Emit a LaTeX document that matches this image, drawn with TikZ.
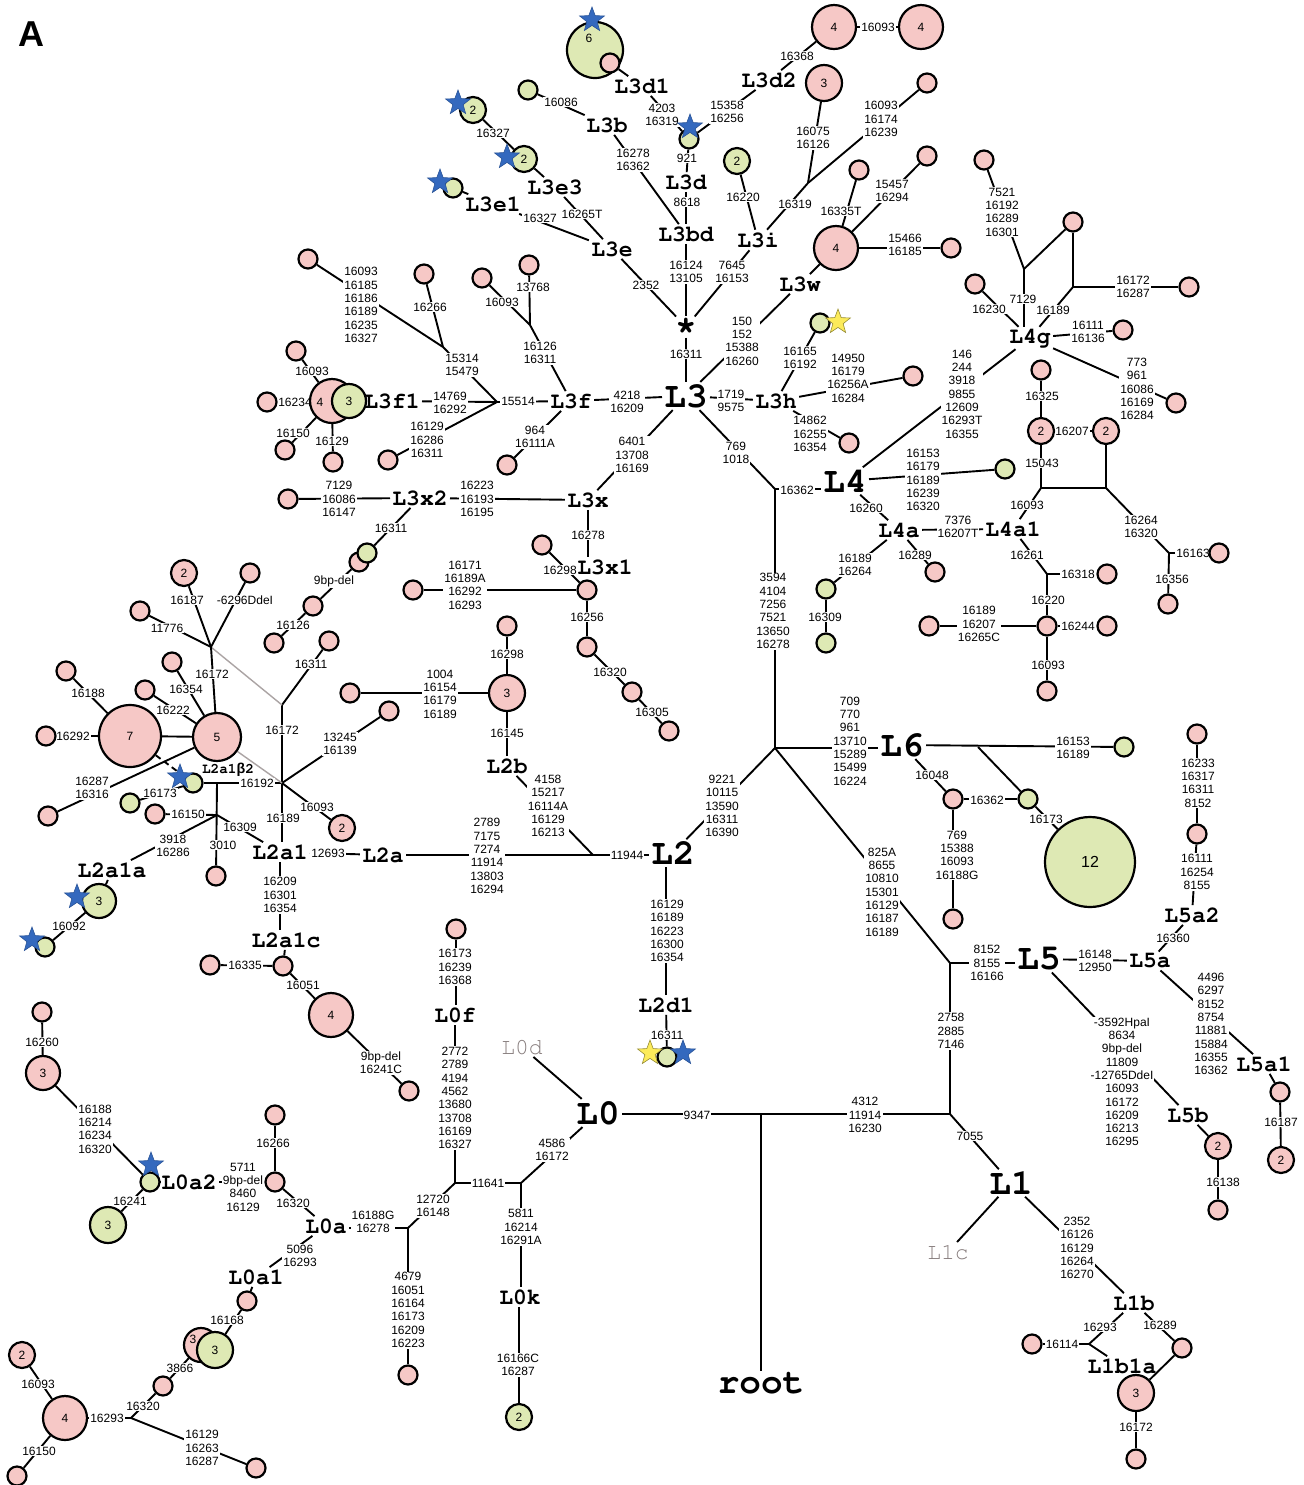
\documentclass[tikz,border=0pt]{standalone}
\usepackage[T1]{fontenc}
\usepackage{fontspec}
\setmainfont{Liberation Sans}
\newfontfamily\cour{Liberation Mono}
\newcommand\crbf{\fontencoding{T1}\fontfamily{pcr}\fontseries{b}\fontshape{n}}
\newcommand\crmd{\fontencoding{T1}\fontfamily{pcr}\fontseries{m}\fontshape{n}}
\usetikzlibrary{shapes.geometric,backgrounds}
\definecolor{pinkc}{RGB}{246,200,198}
\definecolor{greenc}{RGB}{222,233,180}
\definecolor{bluec}{RGB}{52,105,190}
\definecolor{yellowc}{RGB}{252,235,90}
\definecolor{greyc}{RGB}{135,125,125}
\begin{document}
\begin{tikzpicture}[x=0.5pt,y=-0.5pt,
 num/.style={font=\fontsize{6}{6.65}\selectfont,align=center,fill=white,inner sep=0.5pt},
 cbig/.style={font=\crbf\fontsize{18}{18}\selectfont,inner sep=1pt},
 cmed/.style={font=\crbf\fontsize{11.5}{12}\selectfont,inner sep=1pt},
 csml/.style={font=\crbf\fontsize{7.2}{8}\selectfont,inner sep=0.5pt},
 cgry/.style={font=\crmd\fontsize{11.5}{12}\selectfont,inner sep=1pt,text=greyc},
 ctxt/.style={font=\fontsize{6}{6}\selectfont,inner sep=0pt},
 pk/.style={circle,draw,line width=1.1pt,fill=pinkc,inner sep=0pt,font=\fontsize{6}{6}\selectfont},
 gr/.style={circle,draw,line width=1.1pt,fill=greenc,inner sep=0pt,font=\fontsize{6}{6}\selectfont},
 sz1/.style={minimum size=9.5pt},
 sz2/.style={minimum size=13pt},
 sz3/.style={minimum size=18pt},
 sz3b/.style={minimum size=17pt},
 sz4/.style={minimum size=22pt},
 sz5/.style={minimum size=24pt},
 sz6/.style={minimum size=28pt},
 sz7/.style={minimum size=31pt},
 sz12/.style={minimum size=45pt},
 bstar/.style={star,star points=5,star point ratio=2.4,fill=bluec,draw=bluec!80!black,line width=0.3pt,minimum size=13pt,inner sep=0pt},
 ystar/.style={star,star points=5,star point ratio=2.4,fill=yellowc,draw=yellowc!60!black,line width=0.3pt,minimum size=13pt,inner sep=0pt},
 ln/.style={line width=0.95pt},
 lng/.style={line width=0.7pt,draw=greyc!70!white}
]
\useasboundingbox (0,0) rectangle (1303,1485);
\node[font=\bfseries\fontsize{18}{18}\selectfont] (lblA) at (31,34) {A};

% ---------- junctions
\coordinate (J1) at (808,183);
\coordinate (J2) at (497,402);
\coordinate (J3) at (443,347);
\coordinate (J4) at (530,325);
\coordinate (J5) at (775,489);
\coordinate (J6) at (775,748);
\coordinate (J6a) at (978,747);
\coordinate (J7) at (1041,488);
\coordinate (J8) at (1106,488);
\coordinate (J9) at (1169,553);
\coordinate (J10) at (1047,574);
\coordinate (J11) at (1024,269);
\coordinate (J12) at (1073,287);
\coordinate (J13) at (950,963);
\coordinate (J14) at (950,1114);
\coordinate (J15) at (761,1114);
\coordinate (J16) at (1089,1344);
\coordinate (J17) at (593,855);
\coordinate (J18) at (282,783);
\coordinate (J19) at (282,705);
\coordinate (J20) at (211,647);
\coordinate (J21) at (217,815);
\coordinate (J21t) at (217,783);
\coordinate (J22) at (521,1183);
\coordinate (J23) at (455,1183);
\coordinate (J24) at (408,1228);
\coordinate (J25) at (131,1418);

% ---------- number labels
\node[num] (a1) at (797,56) {16368};
\node[num] (a2) at (878,27) {16093};
\node[num] (a3) at (662,115) {4203\\16319};
\node[num] (a4) at (727,112) {15358\\16256};
\node[num] (a5) at (561,102) {16086};
\node[num] (a6) at (493,133) {16327};
\node[num] (a7) at (633,160) {16278\\16362};
\node[num] (a8) at (687,158) {921};
\node[num] (a9) at (687,202) {8618};
\node[num] (a10) at (743,197) {16220};
\node[num] (a11) at (813,138) {16075\\16126};
\node[num] (a12) at (881,119) {16093\\16174\\16239};
\node[num] (a13) at (795,204) {16319};
\node[num] (a14) at (841,211) {16335T};
\node[num] (a15) at (892,191) {15457\\16294};
\node[num] (a16) at (905,245) {15466\\16185};
\node[num] (a17) at (540,218) {16327};
\node[num] (a18) at (582,214) {16265T};
\node[num] (a19) at (646,285) {2352};
\node[num] (a20) at (686,272) {16124\\13105};
\node[num] (a21) at (732,272) {7645\\16153};
\node[num] (a22) at (686,354) {16311};
\node[num] (a23) at (742,341) {150\\152\\15388\\16260};
\node[num] (a24) at (800,358) {16165\\16192};
\node[num] (a25) at (848,378) {14950\\16179\\16256A\\16284};
\node[num] (a26) at (810,434) {14862\\16255\\16354};
\node[num] (a27) at (731,401) {1719\\9575};
\node[num] (a28) at (627,402) {4218\\16209};
\node[num] (a29) at (518,401) {15514};
\node[num] (a30) at (361,305) {16093\\16185\\16186\\16189\\16235\\16327};
\node[num] (a31) at (430,307) {16266};
\node[num] (a32) at (462,365) {15314\\15479};
\node[num] (a33) at (502,302) {16093};
\node[num] (a34) at (533,287) {13768};
\node[num] (a35) at (540,353) {16126\\16311};
\node[num] (a36) at (450,403) {14769\\16292};
\node[num] (a37) at (427,440) {16129\\16286\\16311};
\node[num] (a38) at (535,437) {964\\16111A};
\node[num] (a39) at (312,371) {16093};
\node[num] (a40) at (295,402) {16234};
\node[num] (a41) at (293,433) {16150};
\node[num] (a42) at (332,441) {16129};
\node[num] (a43) at (632,455) {6401\\13708\\16169};
\node[num] (a44) at (477,499) {16223\\16193\\16195};
\node[num] (a45) at (339,499) {7129\\16086\\16147};
\node[num] (a46) at (391,528) {16311};
\node[num] (a47) at (334,581) {9bp-del};
\node[num] (a48) at (293,625) {16126};
\node[num] (a49) at (588,535) {16278};
\node[num] (a50) at (560,570) {16298};
\node[num] (a51) at (465,585) {16171\\16189A\\16292\\16293};
\node[num] (a52) at (587,617) {16256};
\node[num] (a53) at (610,672) {16320};
\node[num] (a54) at (652,712) {16305};
\node[num] (a55) at (736,453) {769\\1018};
\node[num] (a56) at (797,490) {16362};
\node[num] (a57) at (773,611) {3594\\4104\\7256\\7521\\13650\\16278};
\node[num] (a58) at (962,394) {146\\244\\3918\\9855\\12609\\16293T\\16355};
\node[num] (a59) at (923,480) {16153\\16179\\16189\\16239\\16320};
\node[num] (a60) at (866,508) {16260};
\node[num] (a61) at (958,527) {7376\\16207T};
\node[num] (a62) at (915,555) {16289};
\node[num] (a63) at (855,565) {16189\\16264};
\node[num] (a64) at (825,617) {16309};
\node[num] (a65) at (1027,505) {16093};
\node[num] (a66) at (1042,463) {15043};
\node[num] (a67) at (1042,396) {16325};
\node[num] (a68) at (1072,431) {16207};
\node[num] (a69) at (1141,527) {16264\\16320};
\node[num] (a70) at (1193,553) {16163};
\node[num] (a71) at (1172,579) {16356};
\node[num] (a72) at (1027,555) {16261};
\node[num] (a73) at (1078,574) {16318};
\node[num] (a74) at (1048,600) {16220};
\node[num] (a75) at (1078,626) {16244};
\node[num] (a76) at (979,624) {16189\\16207\\16265C};
\node[num] (a77) at (1048,665) {16093};
\node[num] (a78) at (1023,299) {7129};
\node[num] (a79) at (1002,212) {7521\\16192\\16289\\16301};
\node[num] (a80) at (1133,287) {16172\\16287};
\node[num] (a81) at (1053,310) {16189};
\node[num] (a82) at (989,309) {16230};
\node[num] (a83) at (1088,332) {16111\\16136};
\node[num] (a84) at (1137,389) {773\\961\\16086\\16169\\16284};
\node[num] (a85) at (850,741) {709\\770\\961\\13710\\15289\\15499\\16224};
\node[num] (a86) at (1073,748) {16153\\16189};
\node[num] (a87) at (932,775) {16048};
\node[num] (a88) at (987,800) {16362};
\node[num] (a89) at (1046,819) {16173};
\node[num] (a90) at (957,855) {769\\15388\\16093\\16188G};
\node[num] (a91) at (882,892) {825A\\8655\\10810\\15301\\16129\\16187\\16189};
\node[num] (a92) at (987,963) {8152\\8155\\16166};
\node[num] (a93) at (1095,961) {16148\\12950};
\node[num] (a94) at (1173,938) {16360};
\node[num] (a95) at (1197,872) {16111\\16254\\8155};
\node[num] (a96) at (1198,783) {16233\\16317\\16311\\8152};
\node[num] (a97) at (1211,1024) {4496\\6297\\8152\\8754\\11881\\15884\\16355\\16362};
\node[num] (a98) at (1281,1122) {16187};
\node[num] (a99) at (1122,1082) {-3592HpaI\\8634\\9bp-del\\11809\\-12765DdeI\\16093\\16172\\16209\\16213\\16295};
\node[num] (a100) at (1223,1182) {16138};
\node[num] (a101) at (951,1031) {2758\\2885\\7146};
\node[num] (a102) at (865,1115) {4312\\11914\\16230};
\node[num] (a103) at (697,1115) {9347};
\node[num] (a104) at (970,1136) {7055};
\node[num] (a105) at (1077,1248) {2352\\16126\\16129\\16264\\16270};
\node[num] (a106) at (1100,1327) {16293};
\node[num] (a107) at (1062,1344) {16114};
\node[num] (a108) at (1160,1325) {16289};
\node[num] (a109) at (1136,1427) {16172};
\node[num] (a110) at (722,806) {9221\\10115\\13590\\16311\\16390};
\node[num] (a111) at (627,855) {11944};
\node[num] (a112) at (548,806) {4158\\15217\\16114A\\16129\\16213};
\node[num] (a113) at (507,733) {16145};
\node[num] (a114) at (507,654) {16298};
\node[num] (a115) at (440,694) {1004\\16154\\16179\\16189};
\node[num] (a116) at (487,856) {2789\\7175\\7274\\11914\\13803\\16294};
\node[num] (a117) at (328,853) {12693};
\node[num] (a118) at (280,895) {16209\\16301\\16354};
\node[num] (a119) at (245,965) {16335};
\node[num] (a120) at (303,985) {16051};
\node[num] (a121) at (381,1063) {9bp-del\\16241C};
\node[num] (a122) at (283,818) {16189};
\node[num] (a123) at (282,730) {16172};
\node[num] (a124) at (311,664) {16311};
\node[num] (a125) at (187,600) {16187};
\node[num] (a126) at (245,600) {-6296DdeI};
\node[num] (a127) at (167,628) {11776};
\node[num] (a128) at (212,674) {16172};
\node[num] (a129) at (186,689) {16354};
\node[num] (a130) at (173,710) {16222};
\node[num] (a131) at (88,693) {16188};
\node[num] (a132) at (73,736) {16292};
\node[num] (a133) at (92,788) {16287\\16316};
\node[num] (a134) at (257,783) {16192};
\node[num] (a135) at (188,814) {16150};
\node[num] (a136) at (223,845) {3010};
\node[num] (a137) at (240,827) {16309};
\node[num] (a138) at (173,846) {3918\\16286};
\node[num] (a139) at (69,926) {16092};
\node[num] (a140) at (317,807) {16093};
\node[num] (a141) at (340,744) {13245\\16139};
\node[num] (a142) at (160,793) {16173};
\node[num] (a143) at (552,1150) {4586\\16172};
\node[num] (a144) at (488,1183) {11641};
\node[num] (a145) at (521,1227) {5811\\16214\\16291A};
\node[num] (a146) at (518,1365) {16166C\\16287};
\node[num] (a147) at (455,1098) {2772\\2789\\4194\\4562\\13680\\13708\\16169\\16327};
\node[num] (a148) at (455,967) {16173\\16239\\16368};
\node[num] (a149) at (433,1206) {12720\\16148};
\node[num] (a150) at (373,1222) {16188G\\16278};
\node[num] (a151) at (408,1310) {4679\\16051\\16164\\16173\\16209\\16223};
\node[num] (a152) at (293,1203) {16320};
\node[num] (a153) at (273,1143) {16266};
\node[num] (a154) at (243,1187) {5711\\9bp-del\\8460\\16129};
\node[num] (a155) at (95,1129) {16188\\16214\\16234\\16320};
\node[num] (a156) at (42,1042) {16260};
\node[num] (a157) at (130,1201) {16241};
\node[num] (a158) at (300,1256) {5096\\16293};
\node[num] (a159) at (227,1320) {16168};
\node[num] (a160) at (180,1368) {3866};
\node[num] (a161) at (143,1406) {16320};
\node[num] (a162) at (107,1418) {16293};
\node[num] (a163) at (202,1448) {16129\\16263\\16287};
\node[num] (a164) at (38,1384) {16093};
\node[num] (a165) at (39,1451) {16150};
\node[num] (a166) at (667,931) {16129\\16189\\16223\\16300\\16354};
\node[num] (a167) at (667,1035) {16311};

% ---------- clade labels
\node[cbig] (L3) at (686,396) {L3};
\node[cbig] (ast) at (686,327) {*};
\node[cbig] (L4) at (845,481) {L4};
\node[cbig] (L6) at (902,745) {L6};
\node[cbig] (L2) at (673,853) {L2};
\node[cbig] (L5) at (1039,959) {L5};
\node[cbig] (L0) at (598,1113) {L0};
\node[cbig] (L1) at (1011,1183) {L1};
\node[cbig] (root) at (761,1384) {root};
\node[cmed] (L3bd) at (686,234) {L3bd};
\node[cmed] (L3d) at (686,182) {L3d};
\node[cmed] (L3d1) at (642,86) {L3d1};
\node[cmed] (L3d2) at (769,80) {L3d2};
\node[cmed] (L3b) at (607,125) {L3b};
\node[cmed] (L3e) at (612,249) {L3e};
\node[cmed] (L3e3) at (555,187) {L3e3};
\node[cmed] (L3e1) at (493,204) {L3e1};
\node[cmed] (L3i) at (758,240) {L3i};
\node[cmed] (L3w) at (800,284) {L3w};
\node[cmed] (L3f) at (571,401) {L3f};
\node[cmed] (L3f1) at (392,401) {L3f1};
\node[cmed] (L3h) at (776,401) {L3h};
\node[cmed] (L3x) at (588,500) {L3x};
\node[cmed] (L3x2) at (420,498) {L3x2};
\node[cmed] (L3x1) at (605,567) {L3x1};
\node[cmed] (L4g) at (1030,338) {L4g};
\node[cmed] (L4a) at (899,530) {L4a};
\node[cmed] (L4a1) at (1013,529) {L4a1};
\node[cmed] (L2a1) at (280,852) {L2a1};
\node[cmed] (L2a) at (383,855) {L2a};
\node[cmed] (L2b) at (507,766) {L2b};
\node[cmed] (L2a1a) at (112,870) {L2a1a};
\node[cmed] (L2a1c) at (286,940) {L2a1c};
\node[csml] (L2a1b2) at (228,770) {L2a1{\fontencoding{TU}\cour\bfseries β}2};
\node[cmed] (L2d1) at (666,1005) {L2d1};
\node[cmed] (L0f) at (455,1015) {L0f};
\node[cgry] (L0d) at (522,1047) {L0d};
\node[cmed] (L0a2) at (189,1182) {L0a2};
\node[cmed] (L0a) at (326,1226) {L0a};
\node[cmed] (L0a1) at (256,1277) {L0a1};
\node[cmed] (L0k) at (520,1297) {L0k};
\node[cmed] (L5a2) at (1192,915) {L5a2};
\node[cmed] (L5a) at (1150,961) {L5a};
\node[cmed] (L5a1) at (1264,1064) {L5a1};
\node[cmed] (L5b) at (1188,1115) {L5b};
\node[cmed] (L1b) at (1134,1303) {L1b};
\node[cmed] (L1b1a) at (1122,1366) {L1b1a};
\node[cgry] (L1c) at (948,1252) {L1c};

% ---------- circles
\node[pk,sz4] (cA4) at (834,27) {4};
\node[pk,sz4] (cB4) at (921,27) {4};
\node[pk,sz3] (c3a) at (824,83) {3};
\node[pk,sz1] (s1) at (927,83) {};
\node[pk,sz1] (s2) at (927,156) {};
\node[pk,sz4] (cW4) at (836,248) {4};
\node[pk,sz1] (s3) at (859,170) {};
\node[pk,sz1] (s4) at (951,248) {};
\node[gr,sz2] (g2i) at (737,161) {2};
\node[gr,sz1] (gD) at (689,139) {};
\node[gr,sz6] (g6) at (595,50) {};
\node[ctxt] (t6) at (589,38) {6};
\node[pk,sz1] (pD1) at (610,63) {};
\node[gr,sz1] (gB) at (528,90) {};
\node[gr,sz2] (gE2a) at (473,110) {2};
\node[gr,sz2] (gE2b) at (524,159) {2};
\node[gr,sz1] (gE1) at (453,188) {};
\node[gr,sz1] (gH) at (820,323) {};
\node[pk,sz1] (pH1) at (913,376) {};
\node[pk,sz1] (pH2) at (849,443) {};
\node[pk,sz1] (sf1) at (308,259) {};
\node[pk,sz1] (sf2) at (424,274) {};
\node[pk,sz1] (sf3) at (482,278) {};
\node[pk,sz1] (sf4) at (529,265) {};
\node[pk,sz1] (sf5) at (388,460) {};
\node[pk,sz1] (sf6) at (507,465) {};
\node[pk,sz4] (pf4) at (332,401) {};
\node[ctxt] (t4f) at (320,402) {4};
\node[gr,sz3b] (gf3) at (349,401) {3};
\node[pk,sz1] (sf7) at (296,351) {};
\node[pk,sz1] (sf8) at (267,402) {};
\node[pk,sz1] (sf9) at (285,450) {};
\node[pk,sz1] (sf10) at (333,462) {};
\node[pk,sz1] (sx1) at (288,499) {};
\node[pk,sz1] (px) at (359,562) {};
\node[gr,sz1] (gx) at (367,553) {};
\node[pk,sz1] (sx2) at (313,606) {};
\node[pk,sz1] (sx3) at (274,643) {};
\node[pk,sz1] (sx4) at (542,545) {};
\node[pk,sz1] (sx5) at (587,590) {};
\node[pk,sz1] (sx6) at (413,590) {};
\node[pk,sz1] (sx7) at (587,647) {};
\node[pk,sz1] (sx8) at (632,692) {};
\node[pk,sz1] (sx9) at (669,731) {};
\node[gr,sz1] (g4) at (1005,469) {};
\node[pk,sz1] (s4a) at (935,572) {};
\node[gr,sz1] (g4b) at (826,589) {};
\node[gr,sz1] (g4c) at (826,643) {};
\node[pk,sz2] (c2L) at (1041,431) {2};
\node[pk,sz2] (c2R) at (1106,431) {2};
\node[pk,sz1] (s4d) at (1041,370) {};
\node[pk,sz1] (s4e) at (1219,553) {};
\node[pk,sz1] (s4f) at (1168,604) {};
\node[pk,sz1] (s4g) at (1107,574) {};
\node[pk,sz1] (s4h) at (1047,626) {};
\node[pk,sz1] (s4i) at (1107,626) {};
\node[pk,sz1] (s4j) at (929,626) {};
\node[pk,sz1] (s4k) at (1047,691) {};
\node[pk,sz1] (sg1) at (984,160) {};
\node[pk,sz1] (sg2) at (1073,222) {};
\node[pk,sz1] (sg3) at (1189,287) {};
\node[pk,sz1] (sg4) at (975,284) {};
\node[pk,sz1] (sg5) at (1123,330) {};
\node[pk,sz1] (sg6) at (1176,403) {};
\node[gr,sz1] (g6a) at (1124,747) {};
\node[gr,sz1] (g6b) at (1028,799) {};
\node[gr,sz12,font=\fontsize{8}{8}\selectfont] (c12) at (1090,862) {12};
\node[pk,sz1] (p6a) at (953,799) {};
\node[pk,sz1] (p6b) at (953,919) {};
\node[pk,sz1] (s5a) at (1197,734) {};
\node[pk,sz1] (s5b) at (1197,834) {};
\node[pk,sz1] (s5c) at (1280,1092) {};
\node[pk,sz2] (c5d) at (1281,1160) {2};
\node[pk,sz2] (c5e) at (1218,1146) {2};
\node[pk,sz1] (s5f) at (1218,1210) {};
\node[pk,sz1] (s1a) at (1032,1344) {};
\node[pk,sz1] (s1b) at (1182,1348) {};
\node[pk,sz3] (c1c) at (1136,1393) {3};
\node[pk,sz1] (s1d) at (1136,1459) {};
\node[pk,sz3] (c2b3) at (507,693) {3};
\node[pk,sz1] (s2a) at (507,626) {};
\node[pk,sz1] (s2b) at (350,693) {};
\node[pk,sz2] (c2d) at (342,828) {2};
\node[pk,sz1] (s2c) at (389,711) {};
\node[pk,sz1] (s2e) at (329,641) {};
\node[pk,sz2] (c2f) at (184,573) {2};
\node[pk,sz1] (s2g) at (250,573) {};
\node[pk,sz1] (s2h) at (140,611) {};
\node[pk,sz5] (c5) at (217,737) {5};
\node[pk,sz1] (s2i) at (172,662) {};
\node[pk,sz1] (s2j) at (145,690) {};
\node[pk,sz7] (c7) at (130,736) {7};
\node[pk,sz1] (s2k) at (66,671) {};
\node[pk,sz1] (s2l) at (46,736) {};
\node[pk,sz1] (s2m) at (48,816) {};
\node[gr,sz1] (g2n) at (193,783) {};
\node[gr,sz1] (g2o) at (130,803) {};
\node[pk,sz1] (s2p) at (155,814) {};
\node[pk,sz1] (s2q) at (216,876) {};
\node[gr,sz3b] (g2r) at (99,901) {3};
\node[gr,sz1] (g2s) at (45,947) {};
\node[pk,sz1] (s2t) at (283,966) {};
\node[pk,sz1] (s2u) at (210,965) {};
\node[pk,sz4] (c2v) at (331,1015) {4};
\node[pk,sz1] (s2w) at (409,1091) {};
\node[gr,sz1] (g2x) at (667,1057) {};
\node[pk,sz1] (s0a) at (456,929) {};
\node[gr,sz2] (g0b) at (519,1417) {2};
\node[pk,sz1] (s0c) at (408,1375) {};
\node[pk,sz1] (p0d) at (275,1182) {};
\node[pk,sz1] (s0e) at (275,1115) {};
\node[gr,sz1] (g0f) at (150,1182) {};
\node[pk,sz3b] (c0g) at (43,1073) {3};
\node[pk,sz1] (s0h) at (42,1012) {};
\node[gr,sz3] (g0i) at (108,1225) {3};
\node[pk,sz1] (s0j) at (247,1301) {};
\node[pk,sz3b] (p0k) at (201,1345) {};
\node[ctxt] (t3k) at (193,1339) {3};
\node[gr,sz3] (g0l) at (215,1350) {3};
\node[pk,sz1] (s0m) at (163,1386) {};
\node[pk,sz4] (c0n) at (65,1418) {4};
\node[pk,sz1] (s0o) at (256,1468) {};
\node[pk,sz2] (c0p) at (22,1355) {2};
\node[pk,sz1] (s0q) at (17,1476) {};

% ---------- stars
\node[bstar] (b1) at (592,20) {};
\node[bstar] (b2) at (690,127) {};
\node[bstar] (b3) at (458,103) {};
\node[bstar] (b4) at (507,157) {};
\node[bstar] (b5) at (440,182) {};
\node[bstar] (b6) at (180,777) {};
\node[bstar] (b7) at (77,897) {};
\node[bstar] (b8) at (32,940) {};
\node[bstar] (b9) at (151,1165) {};
\node[bstar] (b10) at (683,1053) {};
\node[ystar] (y1) at (838,322) {};
\node[ystar] (y2) at (650,1053) {};

% ---------- connectors
\begin{pgfonlayer}{background}
\fill[white] (0,0) rectangle (1303,1485);
\begin{scope}[ln]
\draw (L3d2) -- (cA4);
\draw (cA4) -- (cB4);
\draw (L3d2) -- (gD);
\draw (gD) -- (L3d1);
\draw (L3d1) -- (pD1);
\draw (gD) -- (L3d);
\draw (L3d) -- (L3bd);
\draw (L3bd) -- (ast);
\draw (L3b) -- (L3bd);
\draw (gB) -- (L3b);
\draw (ast) -- (L3e);
\draw (L3e) -- (L3e1);
\draw (L3e1) -- (gE1);
\draw (L3e) -- (L3e3);
\draw (L3e3) -- (gE2b);
\draw (gE2b) -- (gE2a);
\draw (ast) -- (L3i);
\draw (L3i) -- (g2i);
\draw (L3i) -- (J1);
\draw (J1) -- (c3a);
\draw (J1) -- (s1);
\draw (L3) -- (L3w);
\draw (L3w) -- (cW4);
\draw (cW4) -- (s3);
\draw (cW4) -- (s2);
\draw (cW4) -- (s4);
\draw (ast) -- (L3);
\draw (L3) -- (L3h);
\draw (L3h) -- (gH);
\draw (L3h) -- (pH1);
\draw (L3h) -- (pH2);
\draw (L3) -- (L3f);
\draw (L3f) -- (J2);
\draw (J2) -- (J3);
\draw (J3) -- (sf1);
\draw (J3) -- (sf2);
\draw (L3f) -- (J4);
\draw (J4) -- (sf3);
\draw (J4) -- (sf4);
\draw (J2) -- (L3f1);
\draw (J2) -- (sf5);
\draw (L3f) -- (sf6);
\draw (gf3) -- (L3f1);
\draw (pf4) -- (sf7);
\draw (pf4) -- (sf8);
\draw (pf4) -- (sf9);
\draw (pf4) -- (sf10);
\draw (L3) -- (L3x);
\draw (L3x) -- (L3x2);
\draw (L3x2) -- (sx1);
\draw (L3x2) -- (gx);
\draw (px) -- (sx2);
\draw (sx2) -- (sx3);
\draw (L3x) -- (L3x1.north -| L3x);
\draw (sx4) -- (sx5);
\draw (sx5) -- (sx6);
\draw (sx5) -- (sx7);
\draw (sx7) -- (sx8);
\draw (sx8) -- (sx9);
\draw (L3) -- (J5);
\draw (J5) -- (J5 -| L4.west);
\draw (J5) -- (J6);
\draw (L4) -- (L4g);
\draw (L4) -- (g4);
\draw (L4) -- (L4a);
\draw (L4a) -- (L4a1);
\draw (L4a) -- (s4a);
\draw (L4a) -- (g4b);
\draw (g4b) -- (g4c);
\draw (L4a1) -- (J7);
\draw (J7) -- (c2L);
\draw (c2L) -- (s4d);
\draw (J7) -- (J8);
\draw (J8) -- (c2R);
\draw (c2L) -- (c2R);
\draw (J8) -- (J9);
\draw (J9) -- (s4e);
\draw (J9) -- (s4f);
\draw (L4a1) -- (J10);
\draw (J10) -- (s4g);
\draw (J10) -- (s4h);
\draw (s4h) -- (s4i);
\draw (s4h) -- (s4j);
\draw (s4h) -- (s4k);
\draw (J11) -- (L4g.north -| J11);
\draw (J11) -- (sg1);
\draw (J11) -- (sg2);
\draw (sg2) -- (J12);
\draw (J12) -- (sg3);
\draw (J12) -- (L4g);
\draw (L4g) -- (sg4);
\draw (L4g) -- (sg5);
\draw (L4g) -- (sg6);
\draw (J6) -- (J6 -| L6.west);
\draw (L6) -- (g6a);
\draw (J6a) -- (g6b);
\draw (g6b) -- (c12);
\draw (L6) -- (p6a);
\draw (p6a) -- (g6b);
\draw (p6a) -- (p6b);
\draw (J6) -- (J13);
\draw (J13) -- (J13 -| L5.west);
\draw (L5) -- (L5a);
\draw (L5a) -- (L5a2);
\draw (L5a2) -- (s5b);
\draw (s5b) -- (s5a);
\draw (L5a) -- (L5a1);
\draw (L5a1) -- (s5c);
\draw (s5c) -- (c5d);
\draw (L5) -- (L5b);
\draw (L5b) -- (c5e);
\draw (c5e) -- (s5f);
\draw (J13) -- (J14);
\draw (J14) -- (J15);
\draw (J15) -- (J15 -| L0.east);
\draw (J15) -- (root.north -| J15);
\draw (J14) -- (L1);
\draw (L1) -- (L1c);
\draw (L1) -- (L1b);
\draw (L1b) -- (J16);
\draw (J16) -- (s1a);
\draw (J16) -- (L1b1a);
\draw (L1b) -- (s1b);
\draw (s1b) -- (c1c);
\draw (c1c) -- (s1d);
\draw (J6) -- (L2);
\draw (J17) -- (J17 -| L2.west);
\draw (J17) -- (L2b);
\draw (L2b) -- (c2b3);
\draw (c2b3) -- (s2a);
\draw (c2b3) -- (s2b);
\draw (J17) -- (J17 -| L2a.east);
\draw (L2a) -- (L2a1);
\draw (L2a1) -- (L2a1c.north -| L2a1);
\draw (L2a1c) -- (s2t);
\draw (s2t) -- (s2u);
\draw (s2t) -- (c2v);
\draw (c2v) -- (s2w);
\draw (J18) -- (L2a1.north -| J18);
\draw (J18) -- (J19);
\draw (J19) -- (s2e);
\draw[lng] (J19) -- (J20);
\draw (J20) -- (c2f);
\draw (J20) -- (s2g);
\draw (J20) -- (s2h);
\draw (J20) -- (c5);
\draw (c5) -- (s2i);
\draw (c5) -- (s2j);
\draw (c5) -- (c7);
\draw (c7) -- (s2k);
\draw (c7) -- (s2l);
\draw (c5) -- (s2m);
\draw[dashed,dash pattern=on 3pt off 2pt] (c7) -- (g2n);
\draw (g2n) -- (J18);
\draw (J21t) -- (s2q);
\draw (J21) -- (s2p);
\draw (J21) -- (L2a1);
\draw (J21) -- (L2a1a);
\draw (L2a1a) -- (g2r);
\draw (g2r) -- (g2s);
\draw (g2o) -- (g2n);
\draw (J18) -- (c2d);
\draw (J18) -- (s2c);
\draw[lng] (c5) -- (J18);
\draw (L2d1.north) -- (L2.south -| L2d1.north);
\draw (L2d1) -- (g2x);
\draw (L0) -- (L0d);
\draw (L0) -- (J22);
\draw (J22) -- (J23);
\draw (J22) -- (L0k.north -| J22);
\draw (L0k.south -| g0b) -- (g0b);
\draw (J23) -- (L0f.south -| J23);
\draw (L0f.north -| s0a) -- (s0a);
\draw (J23) -- (J24);
\draw (J24) -- (J24 -| L0a.east);
\draw (J24) -- (s0c);
\draw (L0a) -- (p0d);
\draw (p0d) -- (s0e);
\draw (p0d) -- (p0d -| L0a2.east);
\draw (g0f) -- (L0a2);
\draw (g0f) -- (c0g);
\draw (c0g) -- (s0h);
\draw (g0f) -- (g0i);
\draw (L0a) -- (L0a1);
\draw (L0a1) -- (s0j);
\draw (s0j) -- (g0l);
\draw (p0k) -- (s0m);
\draw (s0m) -- (J25);
\draw (J25) -- (c0n);
\draw (J25) -- (s0o);
\draw (c0n) -- (c0p);
\draw (c0n) -- (s0q);
\end{scope}
\end{pgfonlayer}
\end{tikzpicture}
\end{document}
